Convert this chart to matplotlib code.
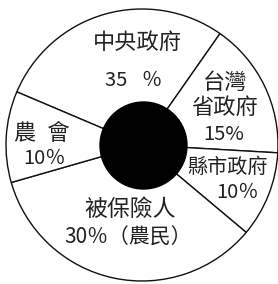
import matplotlib.pyplot as plt
from matplotlib.patches import Circle

plt.rcParams['font.family'] = ['Noto Sans CJK TC', 'DejaVu Sans']

W, H = 278, 284

# slices, clockwise from the upper-left boundary
names = ["中央政府", "台灣\n省政府", "縣市政府", "被保險人", "農\u2002會"]
pct_text = ["35\u2002 ％", "15%", "10％", "30％（農民）", "10％"]
# angular size of each wedge as drawn in the picture (degrees)
wedge_deg = [102, 58.3, 36.7, 124, 39]

# label centres in pixel coordinates (x, y from top)
name_xy = [(137, 42), (225, 95), (228, 167), (130, 209), (42, 133)]
pct_xy = [(134, 80), (224, 134), (237, 192), (128, 238), (44, 158)]
name_size = [16, 16, 14.5, 16.5, 16]
pct_size = [14.5, 14.5, 14.5, 15, 14.5]


def main():
    fig = plt.figure(figsize=(W / 100, H / 100), dpi=100)
    ax = fig.add_axes([0, 0, 1, 1])

    ax.pie(
        wedge_deg,
        startangle=157,
        counterclock=False,
        center=(142, H - 145),
        radius=136,
        wedgeprops=dict(facecolor="white", edgecolor="#111111", linewidth=1.0),
    )
    ax.add_patch(Circle((143.5, H - 145.5), 43.5, color="black", zorder=5))

    for (x, y), t, s in zip(name_xy, names, name_size):
        ax.text(x, H - y, t, ha="center", va="center", fontsize=s,
                color="#222222", linespacing=1.1, fontweight="light")
    for (x, y), t, s in zip(pct_xy, pct_text, pct_size):
        ax.text(x, H - y, t, ha="center", va="center", fontsize=s,
                color="#222222", fontweight="light")

    ax.set_xlim(0, W)
    ax.set_ylim(0, H)
    ax.set_aspect("equal")
    ax.axis("off")

    fig.savefig("out.png", dpi=100, facecolor="white")


if __name__ == "__main__":
    main()
